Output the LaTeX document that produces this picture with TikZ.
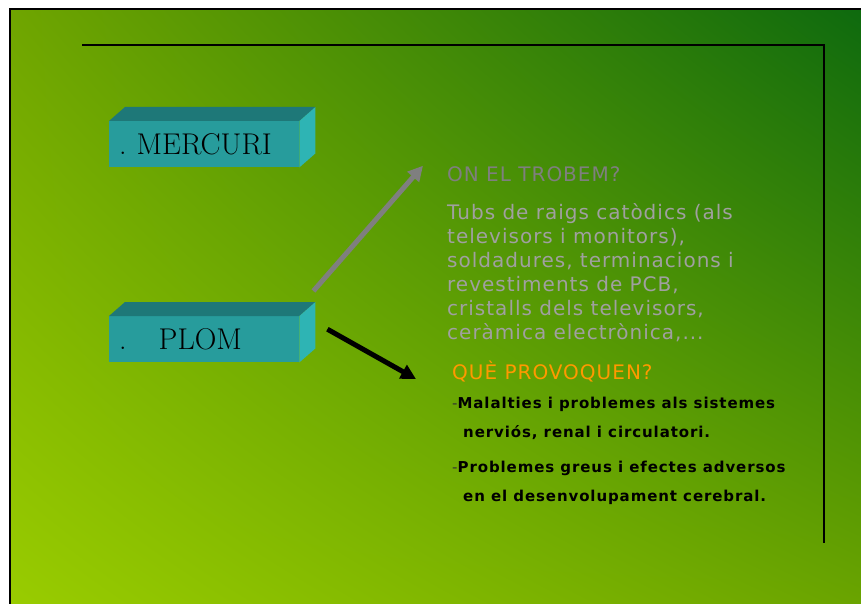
\documentclass[tikz,border=0pt]{standalone}
\usepackage{fontspec}
\usepackage{tikz}
\usetikzlibrary{positioning, arrows.meta, calc, shadings}
\newfontfamily\verd[LetterSpace=5]{DejaVu Sans}
\newfontfamily\verdb[LetterSpace=6]{DejaVu Sans Bold}
\definecolor{slideul}{HTML}{6FA500}
\definecolor{slideur}{HTML}{0E6A0E}
\definecolor{slidell}{HTML}{99CC00}
\definecolor{slidelr}{HTML}{6AA400}
\definecolor{boxfront}{HTML}{279C9C}
\definecolor{boxtop}{HTML}{1E7878}
\definecolor{boxside}{HTML}{2EB4B4}
\definecolor{greyhead}{HTML}{7F7F7F}
\definecolor{greytext}{HTML}{A0A0A0}
\definecolor{orangehead}{HTML}{FF9900}
\definecolor{dashc}{HTML}{333333}
\tikzset{
  frontface/.style={fill=boxfront, minimum width=190pt, minimum height=46pt,
                    inner sep=0pt, inner xsep=10pt, text width=170pt, align=left,
                    font=\fontsize{30}{30}\selectfont, text=black},
  headtxt/.style={anchor=base west, inner sep=0pt, font=\verd\fontsize{20}{24}\selectfont},
  bodytxt/.style={anchor=base west, inner sep=0pt, align=left, text=greytext,
                  font=\verd\fontsize{20}{24}\selectfont},
  itemtxt/.style={anchor=base west, inner sep=0pt, align=left, text=black,
                  font=\verdb\fontsize{15}{29}\selectfont},
  arr/.style={-{Triangle[length=15pt, width=15pt]}, line width=5pt},
}

\begin{document}
\begin{tikzpicture}[x=1pt, y=-1pt]
  \useasboundingbox (0,0) rectangle (861,604);
  \fill[white] (0,0) rectangle (861,604);
  % slide background
  \shade[upper left=slideul, upper right=slideur, lower left=slidell,
         lower right=slidelr] (10,9) rectangle (861,604);
  \draw[line width=2.5pt] (10,604) -- (10,9) -- (861,9);
  \draw[line width=1.2pt] (82,45) -- (824,45) -- (824,543);

  % boxes
  \node[frontface, anchor=north west] (mercuri) at (109,121) {.~MERCURI};
  \node[frontface, anchor=north west] (plom) at (109,316) {.\hspace{32pt}PLOM};
  \foreach \b in {mercuri, plom} {
    \fill[boxtop] (\b.north west) -- ++(16,-14) -- ($(\b.north east)+(16,-14)$)
      -- (\b.north east) -- cycle;
    \fill[boxside] (\b.north east) -- ++(16,-14) -- ($(\b.south east)+(16,-14)$)
      -- (\b.south east) -- cycle;
  }

  % texts (base = last line)
  \node[headtxt, text=greyhead] (onq) at (447,182) {ON EL TROBEM?};
  \node[bodytxt] (onans) at (447,339)
    {Tubs de raigs catòdics (als\\televisors i monitors),\\soldadures, terminacions i\\
     revestiments de PCB,\\cristalls dels televisors,\\ceràmica electrònica,...};
  \node[headtxt, text=orangehead] (que) at (452,379) {QUÈ PROVOQUEN?};
  \node[itemtxt] (item1) at (452,437)
    {{\verd\color{dashc}-}Malalties i problemes als sistemes\\
     \hspace{11pt}nerviós, renal i circulatori.};
  \node[itemtxt] (item2) at (452,501)
    {{\verd\color{dashc}-}Problemes greus i efectes adversos\\
     \hspace{11pt}en el desenvolupament cerebral.};

  % arrows
  \draw[arr, draw=greyhead, fill=greyhead]
    ($(plom.north east)+(14,-25)$) -- ($(onq.west)+(-24,-9)$);
  \draw[arr, draw=black]
    ($(plom.east)+(28,-10)$) -- ($(que.west)+(-36,8)$);
\end{tikzpicture}
\end{document}
